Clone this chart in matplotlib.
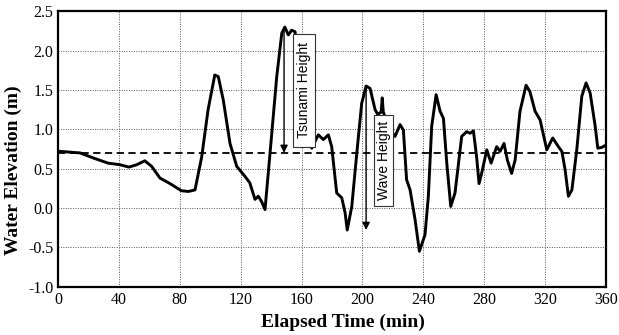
import numpy as np
import matplotlib.pyplot as plt
from matplotlib.patches import Rectangle

# Creating dataset
time_min = [0, 1.3, 14.5, 24, 33, 40.7, 46.6, 51.7, 57, 61.5, 67, 73.6, 81, 85.6, 90,
            94.4, 98.6, 103, 105.3, 108.6, 113, 117.4, 122.9, 126, 129.4, 131.6, 133.8,
            136, 139.3, 143.7, 147, 149, 151.3, 153.5, 155.7, 158, 161, 164, 166.7,
            171, 174.3, 177.6, 179.8, 183.1, 186.4, 188.6, 190, 193, 196.3, 199.5,
            202.4, 205, 208.3, 210, 212.3, 213, 213.7, 215, 218, 221.4, 224.7, 226.9,
            229, 231.3, 234.6, 237.4, 241.1, 243.3, 245.5, 248.4, 251, 253.2, 255.4,
            258, 260.8, 265.2, 268.5, 270.7, 272.9, 275, 276.6, 278.3, 281.7, 284.5,
            288.2, 290.4, 293, 295.2, 298, 300.3, 303.5, 307.5, 310, 313.4, 316.7,
            321.1, 325, 328.7, 331, 333.1, 335.3, 337.6, 340.8, 344.1, 346.9, 349.6,
            352.9, 354.6, 357.2, 360]
elevation_m = [0.72, 0.72, 0.70, 0.63, 0.57, 0.55, 0.52, 0.55, 0.60, 0.53, 0.38, 0.31,
               0.22, 0.21, 0.23, 0.65, 1.25, 1.69, 1.67, 1.37, 0.82, 0.53, 0.40, 0.32,
               0.11, 0.15, 0.08, -0.02, 0.70, 1.67, 2.22, 2.30, 2.20, 2.26, 2.24, 1.95,
               1.40, 0.95, 0.76, 0.93, 0.87, 0.93, 0.78, 0.19, 0.13, -0.06, -0.28, 0.02,
               0.70, 1.33, 1.55, 1.52, 1.25, 1.19, 1.22, 1.40, 1.22, 1.15, 1.00, 0.91,
               1.06, 0.99, 0.36, 0.23, -0.15, -0.55, -0.34, 0.15, 1.04, 1.44, 1.23, 1.14,
               0.57, 0.02, 0.19, 0.91, 0.97, 0.95, 0.98, 0.65, 0.31, 0.44, 0.74, 0.57,
               0.78, 0.72, 0.82, 0.61, 0.44, 0.61, 1.23, 1.56, 1.48, 1.23, 1.12, 0.74,
               0.89, 0.78, 0.72, 0.49, 0.15, 0.23, 0.74, 1.42, 1.59, 1.46, 1.04, 0.76,
               0.77, 0.80]
mean_level = 0.70

x_ticks = np.arange(0, 361, 40)
y_ticks = np.arange(-1.0, 2.51, 0.5)

plt.rcParams['font.family'] = ['Liberation Serif', 'DejaVu Serif']

fig = plt.figure(figsize=(6.19, 3.35), dpi=100)
ax = fig.add_axes([0.0937, 0.1442, 0.8853, 0.8221])

ax.plot(time_min, elevation_m, color='black', lw=2.1, zorder=3)
ax.axhline(mean_level, color='black', ls=(0, (4, 2.5)), lw=1.3, zorder=2)

ax.set_xlim(0, 360)
ax.set_ylim(-1.0, 2.5)
ax.set_xticks(x_ticks)
ax.set_yticks(y_ticks)
ax.set_yticklabels(['%.1f' % v for v in y_ticks])
ax.tick_params(length=0, labelsize=11.5)
ax.tick_params(axis='x', pad=3.5)
ax.tick_params(axis='y', pad=3.5)
ax.grid(True, color='#555555', ls=(0, (1, 1.5)), lw=0.7)
for s in ax.spines.values():
    s.set_linewidth(1.6)

ax.set_xlabel('Elapsed Time (min)', fontsize=14, fontweight='bold')
ax.set_ylabel('Water Elevation (m)', fontsize=14, fontweight='bold')
ax.xaxis.set_label_coords(0.52, -0.098)
ax.yaxis.set_label_coords(-0.066, 0.424)

# Annotations: arrows and labelled boxes
arrow = dict(arrowstyle='-|>', color='black', lw=1.0, mutation_scale=11,
             shrinkA=0, shrinkB=0)
ax.annotate('', xy=(148.5, mean_level), xytext=(148.5, 2.28), arrowprops=arrow, zorder=5)
ax.annotate('', xy=(202.4, -0.28), xytext=(202.4, 1.55), arrowprops=arrow, zorder=5)

boxes = [('Tsunami Height', 154.4, 168.8, 0.78, 2.21),
         ('Wave Height', 207.3, 220.4, 0.02, 1.18)]
for label, x0, x1, y0, y1 in boxes:
    ax.add_patch(Rectangle((x0, y0), x1 - x0, y1 - y0, fc='white', ec='#333333',
                           lw=0.8, zorder=6))
    ax.text((x0 + x1) / 2, (y0 + y1) / 2, label, rotation=90, ha='center',
            va='center', fontsize=10, family=['Liberation Sans', 'DejaVu Sans'],
            zorder=7)

fig.savefig('out.png', dpi=100)
